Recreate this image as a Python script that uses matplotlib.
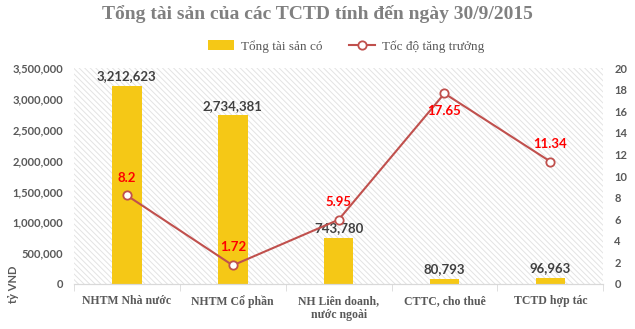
import matplotlib.pyplot as plt
import matplotlib as mpl
import numpy as np

categories = ["NHTM Nhà nước", "NHTM Cổ phần", "NH Liên doanh,\nnước ngoài",
              "CTTC, cho thuê", "TCTD hợp tác"]
assets = [3212623, 2734381, 743780, 80793, 96963]
growth = [8.2, 1.72, 5.95, 17.65, 11.34]
growth_above = [True, True, True, False, True]

bar_color = "#F5C816"
line_color = "#C0504D"
gray = "#595959"
serif = ["Liberation Serif", "DejaVu Serif"]
sans = ["Lato", "DejaVu Sans"]

mpl.rcParams['hatch.color'] = "#E3E3E3"
mpl.rcParams['hatch.linewidth'] = 0.7

fig = plt.figure(figsize=(6.35, 3.29), dpi=100)
ax = fig.add_axes([0.1165, 0.137, 0.8335, 0.656])
ax2 = ax.twinx()

x = np.arange(len(categories))
ax.add_patch(plt.Rectangle((0, 0), 1, 1, transform=ax.transAxes, facecolor="white",
                           edgecolor="#E3E3E3", hatch="\\\\\\\\\\\\", lw=0, zorder=0))
bars = ax.bar(x, assets, width=0.28, color=bar_color, zorder=2, label="Tổng tài sản có")
for xi, v in zip(x, assets):
    ax.text(xi, v + 60000, f"{v:,}", ha="center", va="bottom", fontsize=9.5,
            fontweight="bold", color="#404040", family=sans)

ax.set_xlim(-0.5, len(categories) - 0.5)
ax.set_ylim(0, 3500000)
ax.set_yticks(np.arange(0, 3500001, 500000))
ax.set_yticklabels([f"{int(t):,}" for t in ax.get_yticks()])
ax2.set_ylim(0, 20)
ax2.set_yticks(np.arange(0, 21, 2))

ax.set_xticks(x)
ax.set_xticklabels(categories)
for lbl in ax.get_xticklabels():
    lbl.set_family(serif)
    lbl.set_fontweight("bold")
    lbl.set_fontsize(8.5)
    lbl.set_color(gray)
ax.tick_params(axis="x", length=0, pad=8)
ax.set_xticks(np.arange(-0.5, len(categories)), minor=True)
ax.tick_params(axis="x", which="minor", length=5, color="#D9D9D9")

for a in (ax, ax2):
    for s in ("top", "left", "right"):
        a.spines[s].set_visible(False)
    a.spines["bottom"].set_color("#D9D9D9")
    a.tick_params(axis="y", length=0, labelsize=8, labelcolor=gray)
    for lbl in a.get_yticklabels():
        lbl.set_family(sans)
        lbl.set_fontweight("bold")
ax.tick_params(axis="y", pad=8)
ax2.tick_params(axis="y", pad=8)

ln, = ax2.plot(x, growth, color=line_color, lw=1.5, marker="o", markersize=6,
               markerfacecolor="white", markeredgecolor=line_color, markeredgewidth=1.3,
               zorder=3, label="Tốc độ tăng trưởng")
for xi, v, up in zip(x, growth, growth_above):
    ax2.text(xi, v + (1.1 if up else -1.1), f"{v:g}", ha="center",
             va="bottom" if up else "top", fontsize=9.5, fontweight="bold",
             color="#FF0000", family=sans)

fig.text(0.022, 0.079, "tỷ VND", rotation=90, ha="center", va="bottom",
         fontsize=8, fontweight="bold", color=gray, family=sans)

fig.suptitle("Tổng tài sản của các TCTD tính đến ngày 30/9/2015", y=0.985,
             fontsize=14, fontweight="bold", color="#808080", family=serif)
fig.legend(handles=[bars, ln], loc="upper center", bbox_to_anchor=(0.545, 0.915),
           ncol=2, frameon=False, prop={"family": serif, "size": 9.5},
           labelcolor=gray, handlelength=2.0, columnspacing=2.0, handletextpad=0.5)

fig.savefig("out.png", dpi=100)
